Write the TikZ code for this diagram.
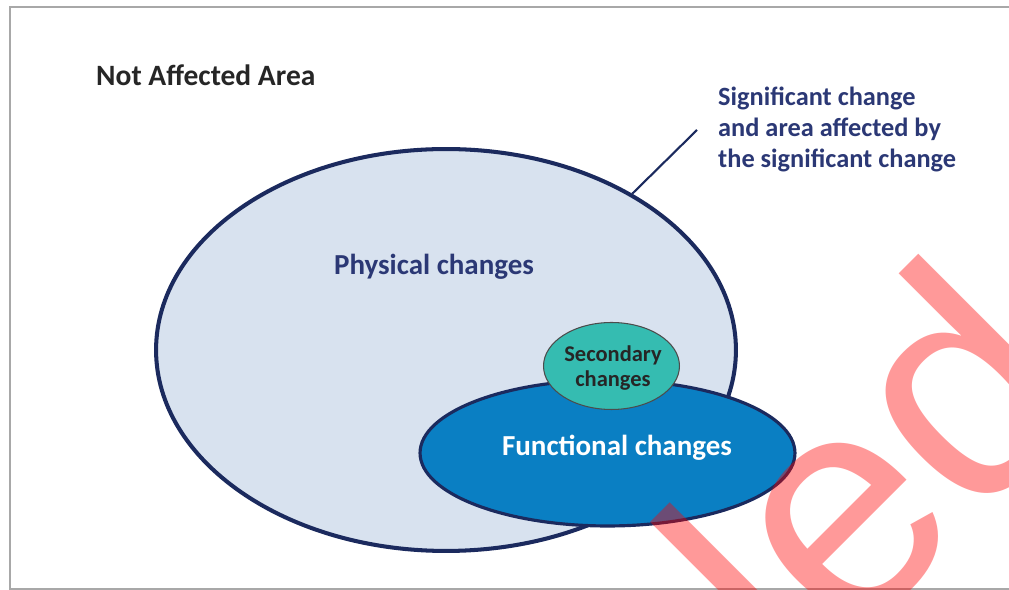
\documentclass[tikz,border=0pt]{standalone}
\usepackage{fontspec}
\setmainfont{Carlito}
\newfontfamily\stampfont{Liberation Sans}
\usetikzlibrary{shapes.geometric}

\definecolor{edgenavy}{HTML}{1B2A5E}
\definecolor{textnavy}{HTML}{2B3875}
\definecolor{physfill}{HTML}{D8E2EF}
\definecolor{funcfill}{HTML}{0A7FC3}
\definecolor{secfill}{HTML}{35BCB1}
\definecolor{framegray}{HTML}{A8A8A8}

\tikzset{
  zone/.style={ellipse, draw=edgenavy, inner sep=0pt},
  bigtext/.style={font=\bfseries\fontsize{16.5}{19}\selectfont, text=textnavy},
}

\begin{document}
\begin{tikzpicture}[x=0.02cm, y=-0.02cm]
        % \draw[help lines, step=50] (0,0) grid (1009,590);
        \useasboundingbox (0,0) rectangle (1009,590);
        \draw[framegray, line width=0.8pt] (1009,7) -- (10,7) -- (10,589) -- (1009,589);

        \node[zone, fill=physfill, line width=2.3pt, minimum width=11.6cm, minimum height=8.04cm] (phys) at (446,350) {};
        \node[zone, fill=funcfill, line width=1.8pt, minimum width=7.5cm, minimum height=2.92cm] (func) at (607.5,453) {};
        \node[zone, fill=secfill, draw=black!70, line width=0.6pt, minimum width=2.72cm, minimum height=1.74cm] (sec) at (611.5,366) {};

        \node[font=\bfseries\fontsize{16.8}{19}\selectfont, text=black!85, anchor=west] (outside) at (90,75) {Not Affected Area};
        \node[bigtext] (physlbl) at (434,267) {Physical changes};
        \node[bigtext, text=white] (funclbl) at (617,448) {Functional changes};
        \node[font=\bfseries\fontsize{12.8}{14.2}\selectfont, text=black!85, align=center] (seclbl) at (613,368) {Secondary\\changes};

        \node[font=\bfseries\fontsize{15}{17.6}\selectfont, text=textnavy, align=left, anchor=north west] (note) at (712,81) {Significant change\\and area affected by\\the significant change};
        \coordinate (noteend) at (697,130);
        \draw[edgenavy, line width=1.2pt] (phys.40.7) -- (noteend);

        \begin{scope}
          \clip (0,0) rectangle (1009,590);
          \node[rotate=45, text=red, opacity=0.4, inner sep=0pt, font=\stampfont\fontsize{180}{180}\selectfont] (stamp) at (867,470) {led};
        \end{scope}

\end{tikzpicture}
\end{document}
